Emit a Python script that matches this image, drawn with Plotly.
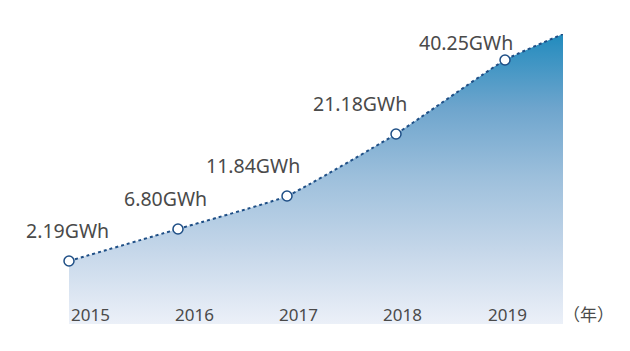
import plotly.graph_objects as go

# ---- data ----
years = [2015, 2016, 2017, 2018, 2019]
values_gwh = [2.19, 6.80, 11.84, 21.18, 40.25]
value_labels = ["2.19GWh", "6.80GWh", "11.84GWh", "21.18GWh", "40.25GWh"]
# drawn heights of the curve (stylised, not to scale)
curve_x = [2015, 2016, 2017, 2018, 2019, 2019.532]
curve_level = [63, 95, 128, 190, 264, 290]
year_labels = ["2015", "2016", "2017", "2018", "2019"]
unit_label = "（年）"

FONT = "Noto Sans"
TEXT = "#4a4a4a"
LINE = "#1f4f86"

fig = go.Figure()

fig.add_trace(go.Scatter(
    x=curve_x, y=curve_level,
    mode="lines",
    line=dict(color=LINE, width=2, dash="dot", shape="spline", smoothing=0.4),
    fill="tozeroy",
    fillgradient=dict(
        type="vertical",
        colorscale=[[0.0, "#ebf0f8"], [0.07, "#e1e9f4"], [0.26, "#c4d6e9"],
                    [0.5, "#9ec0dc"], [0.745, "#6ea5cd"], [0.96, "#2e8fc0"],
                    [1.0, "#1f8bbd"]],
    ),
    hoverinfo="skip",
    showlegend=False,
    cliponaxis=False,
))

fig.add_trace(go.Scatter(
    x=years, y=curve_level[:len(years)],
    mode="markers",
    marker=dict(size=10, color="white", line=dict(color=LINE, width=1.5)),
    customdata=values_gwh,
    hovertemplate="%{x}: %{customdata} GWh<extra></extra>",
    showlegend=False,
    cliponaxis=False,
))

# value labels above points
label_dx = [-2, -13, -34, -36, -39]
label_dy = [31, 31, 31, 31, 18]
for yr, lv, txt, dx, dy in zip(years, curve_level, value_labels, label_dx, label_dy):
    fig.add_annotation(x=yr, y=lv, xref="x", yref="y", text=txt, showarrow=False,
                       xshift=dx, yshift=dy, font=dict(family=FONT, size=19.5, color=TEXT))

# year labels (on their own slightly narrower axis)
for yr, txt in zip(years, year_labels):
    fig.add_annotation(x=yr, y=0, xref="x2", yref="y", text=txt, showarrow=False,
                       yanchor="bottom", yshift=-4,
                       font=dict(family=FONT, size=17, color=TEXT))

fig.add_annotation(x=1, y=0, xref="paper", yref="y", text=unit_label, showarrow=False,
                   xanchor="left", yanchor="bottom", yshift=-4, xshift=-2,
                   font=dict(family="Noto Sans CJK SC", size=17, color=TEXT))

fig.update_layout(
    width=630, height=351,
    margin=dict(l=69, r=67, t=34, b=27),
    paper_bgcolor="white", plot_bgcolor="white",
    xaxis=dict(range=[2015, 2019.532], visible=False, fixedrange=True),
    xaxis2=dict(range=[2014.7986, 2019.537], overlaying="x", visible=False),
    yaxis=dict(range=[0, 290], visible=False),
)

fig.write_html("out.html")
